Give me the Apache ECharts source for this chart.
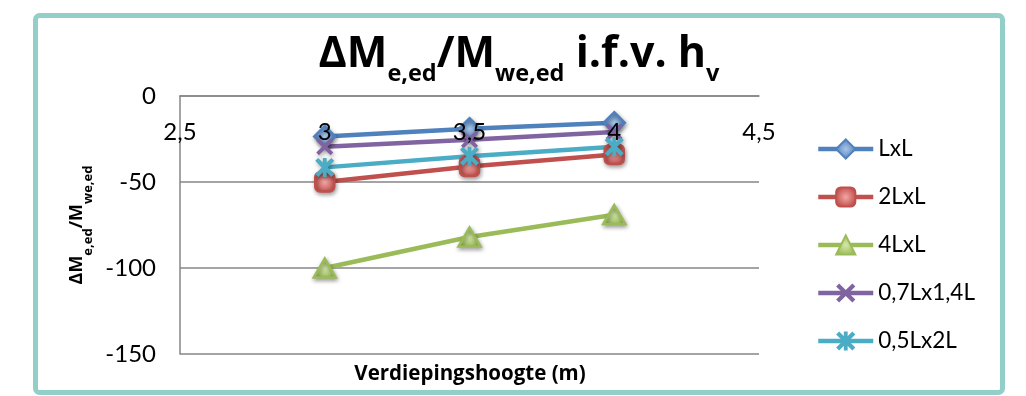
<!DOCTYPE html>
<html>
<head>
<meta charset="utf-8">
<script src="https://cdn.jsdelivr.net/npm/echarts@6/dist/echarts.min.js"></script>
<style>
  html, body { margin: 0; padding: 0; background: #ffffff; }
  #chart { width: 1026px; height: 396px; }
</style>
</head>
<body>
<div id="chart"></div>
<script>
// Storey height (m) on the x axis
const heights = [3, 3.5, 4];

// ΔM_e,ed / M_we,ed per floor plan configuration
const seriesNames = ['LxL', '2LxL', '4LxL', '0,7Lx1,4L', '0,5Lx2L'];
const valsLxL = [-23.5, -19, -15.5];
const vals2LxL = [-50, -41, -34];
const vals4LxL = [-100, -82, -69];
const vals07Lx14L = [-29.5, -25.5, -21];
const vals05Lx2L = [-41.5, -35, -29.5];

const xAxisTitle = 'Verdiepingshoogte (m)';

const seriesValues = [valsLxL, vals2LxL, vals4LxL, vals07Lx14L, vals05Lx2L];
const colors = ['#4F81BD', '#C0504D', '#9BBB59', '#8064A2', '#4BACC6'];
const lightColors = ['#A9C4E8', '#F4A6A4', '#D4E8A8', '#B9A6D0', '#A6DDEA'];

const crossPath = 'path://M0,2.5L2.5,0L8,5.5L13.5,0L16,2.5L10.5,8L16,13.5L13.5,16L8,10.5L2.5,16L0,13.5L5.5,8Z';
const starPath = 'path://M0,2.5L2.5,0L8,5.5L13.5,0L16,2.5L10.5,8L16,13.5L13.5,16L8,10.5L2.5,16L0,13.5L5.5,8Z M6.4,0L9.6,0L9.6,16L6.4,16Z';
const symbols = ['diamond', 'roundRect', 'triangle', crossPath, starPath];
const symbolSizes = [[21, 21], [19, 19], [22, 19], [17, 17], [19, 19]];

const font = 'Lato, "Open Sans", sans-serif';
const boldFont = '"Open Sans", Lato, sans-serif';

const chart = echarts.init(document.getElementById('chart'), null, { renderer: 'canvas' });

const series = seriesNames.map((name, i) => ({
  name: name,
  type: 'line',
  data: heights.map((h, k) => [h, seriesValues[i][k]]),
  symbol: symbols[i],
  symbolSize: symbolSizes[i],
  showAllSymbol: true,
  lineStyle: { color: colors[i], width: 4.5 },
  itemStyle: {
    color: (i >= 3) ? colors[i] : {
      type: 'radial', x: 0.5, y: 0.5, r: 0.5,
      colorStops: [{ offset: 0, color: lightColors[i] }, { offset: 1, color: colors[i] }]
    },
    borderColor: colors[i],
    borderWidth: (i >= 3) ? 0 : 2.5,
    shadowBlur: 4,
    shadowColor: 'rgba(0,0,0,0.35)',
    shadowOffsetX: 1,
    shadowOffsetY: 2
  },
  emphasis: { disabled: true },
  animation: false
}));

chart.setOption({
  animation: false,
  backgroundColor: '#ffffff',
  title: {
    left: 519,
    top: 33,
    textAlign: 'center',
    padding: 0,
    text: '{m|ΔM}{s|e,ed}{m|/M}{s|we,ed}{m| i.f.v. h}{s|v}',
    textStyle: {
      rich: {
        m: { fontFamily: boldFont, fontWeight: 'bold', fontSize: 43, color: '#000', lineHeight: 47, verticalAlign: 'top' },
        s: { fontFamily: boldFont, fontWeight: 'bold', fontSize: 23.5, color: '#000', lineHeight: 53, verticalAlign: 'bottom' }
      }
    }
  },
  graphic: [{
    type: 'rect',
    shape: { x: 35.5, y: 15.5, width: 967, height: 377, r: 4 },
    style: { fill: 'none', stroke: '#93CFC9', lineWidth: 5 },
    silent: true,
    z: 100
  }, {
    type: 'text',
    x: 470,
    y: 374,
    style: {
      text: xAxisTitle,
      fontFamily: boldFont, fontWeight: 'bold', fontSize: 20.5, fill: '#000',
      align: 'center', verticalAlign: 'middle'
    },
    silent: true
  }],
  grid: { left: 180, right: 267, top: 96, bottom: 42, containLabel: false, outerBoundsMode: 'none' },
  legend: {
    orient: 'vertical',
    left: 816,
    top: 137,
    padding: 0,
    itemWidth: 55,
    itemHeight: 24,
    itemGap: 24,
    data: seriesNames,
    lineStyle: { width: 4.5 },
    textStyle: { fontFamily: font, fontSize: 22.5, color: '#000', lineHeight: 24 }
  },
  xAxis: {
    type: 'value',
    position: 'top',
    z: 10,
    min: 2.5,
    max: 4.5,
    interval: 0.5,
    axisLine: { onZero: false, lineStyle: { color: '#868686', width: 1.5 } },
    axisTick: { show: false },
    splitLine: { show: false },
    axisLabel: {
      inside: true,
      fontFamily: font, fontSize: 24, color: '#000', margin: 24,
      formatter: v => String(v).replace('.', ',')
    }
  },
  yAxis: {
    type: 'value',
    min: -150,
    max: 0,
    interval: 50,
    name: '{m|ΔM}{s|e,ed}{m|/M}{s|we,ed}',
    nameLocation: 'middle',
    nameRotate: 90,
    nameGap: 66,
    nameTextStyle: {
      rich: {
        m: { fontFamily: boldFont, fontWeight: 'bold', fontSize: 18, color: '#000', lineHeight: 20, verticalAlign: 'top' },
        s: { fontFamily: boldFont, fontWeight: 'bold', fontSize: 13, color: '#000', lineHeight: 27, verticalAlign: 'bottom' }
      }
    },
    axisLine: { show: true, lineStyle: { color: '#868686', width: 1.5 } },
    axisTick: { show: false },
    splitLine: { show: true, lineStyle: { color: '#868686', width: 1.5 } },
    axisLabel: { fontFamily: font, fontSize: 24, color: '#000', margin: 24, showMinLabel: true, showMaxLabel: true }
  },
  series: series
});
</script>
</body>
</html>
